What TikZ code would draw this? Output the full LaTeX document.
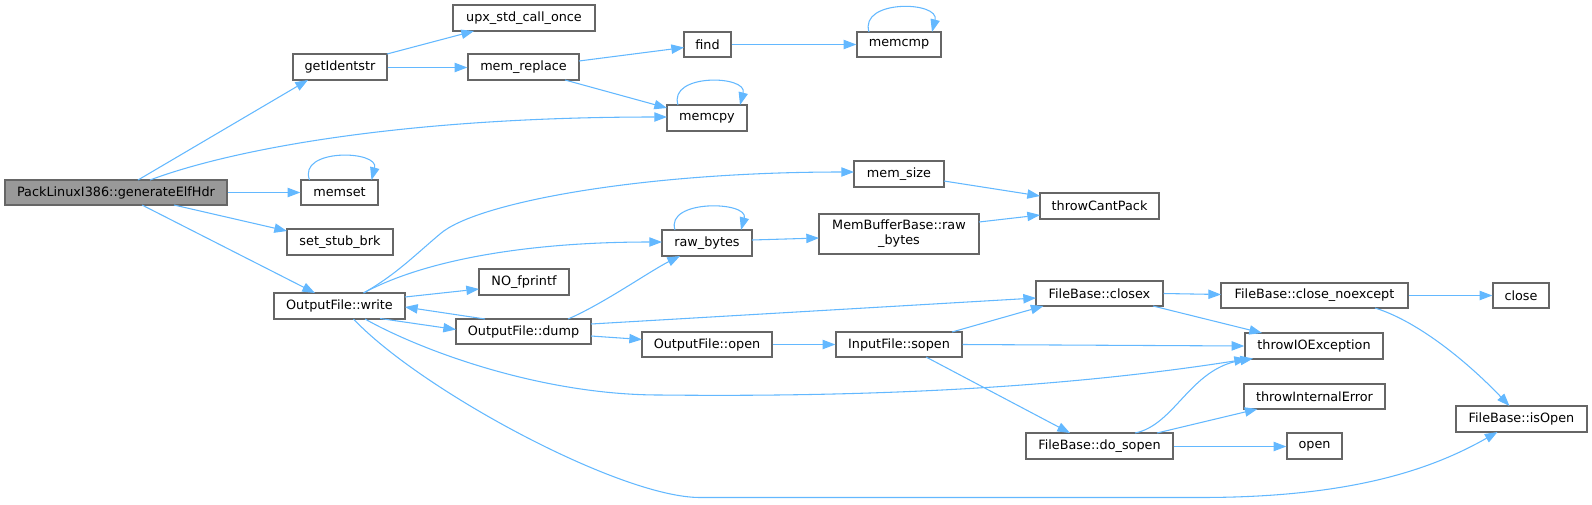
\documentclass[tikz,border=0pt]{standalone}
\usepackage{fontspec}
\setmainfont{DejaVu Sans}
\usetikzlibrary{arrows.meta,calc}
\definecolor{edgeblue}{HTML}{63B8FF}
\definecolor{boxgray}{HTML}{666666}
\definecolor{rootgray}{HTML}{999999}
\tikzset{
  box/.style={draw=boxgray, line width=1pt, fill=white, inner sep=0pt, align=center,
    font=\fontsize{9.6}{11.25}\selectfont, text=black},
  ca/.style={draw=edgeblue, line width=0.8pt, -{Triangle[length=9.5pt,width=7pt]}},
}
\newcommand\bx[7][]{\node[box,#1,minimum width={(#5-#3)*0.75pt},minimum height={(#6-#4)*0.75pt}] (#2) at ({(#3+#5)/2},{(#4+#6)/2}) {#7};}
\begin{document}
\begin{tikzpicture}[x=0.75pt,y=-0.75pt]
\useasboundingbox (0,0) rectangle (1592,504);
\bx[fill=rootgray]{root}{5}{180}{227}{205}{PackLinuxI386::generateElfHdr}
\bx{gid}{293}{54}{387}{80}{getIdentstr}
\bx{upx}{453}{5}{595}{31}{upx\_std\_call\_once}
\bx{mrep}{468}{54}{579}{80}{mem\_replace}
\bx{find}{684}{32}{731}{57}{find}
\bx{memcmp}{857}{32}{941}{57}{memcmp}
\bx{memcpy}{667}{105}{747}{131}{memcpy}
\bx{memset}{301}{180}{378}{205}{memset}
\bx{ssb}{287}{229}{393}{255}{set\_stub\_brk}
\bx{write}{274}{293}{405}{319}{OutputFile::write}
\bx{nof}{479}{269}{569}{295}{NO\_fprintf}
\bx{dump}{456}{319}{591}{344}{OutputFile::dump}
\bx{msize}{854}{161}{944}{187}{mem\_size}
\bx{rawb}{662}{230}{752}{256}{raw\_bytes}
\bx{mbb}{819}{214}{979}{254}{MemBufferBase::raw\\\_bytes}
\bx{ofopen}{642}{332}{772}{357}{OutputFile::open}
\bx{sopen}{836}{332}{962}{357}{InputFile::sopen}
\bx{tcp}{1040}{193}{1159}{219}{throwCantPack}
\bx{closex}{1036}{281}{1163}{306}{FileBase::closex}
\bx{cne}{1221}{283}{1408}{308}{FileBase::close\_noexcept}
\bx{close}{1493}{283}{1549}{308}{close}
\bx{tio}{1245}{333}{1383}{359}{throwIOException}
\bx{tie}{1244}{384}{1385}{409}{throwInternalError}
\bx{dos}{1026}{433}{1173}{459}{FileBase::do\_sopen}
\bx{open}{1287}{433}{1342}{459}{open}
\bx{isOpen}{1456}{406}{1587}{432}{FileBase::isOpen}
% root
\draw[ca] ($(root)+(22,-12.5)$) -- ($(gid)+(-32,13)$);
\draw[ca] ($(root)+(34,-12.5)$) .. controls +(80,-30) and +(-267,0) .. ($(memcpy)+(-40,-1)$);
\draw[ca] (root.east) -- (memset.west);
\draw[ca] ($(root)+(58,12.5)$) -- ($(ssb)+(-53,-11)$);
\draw[ca] ($(root)+(26,12.5)$) -- ($(write)+(-24.5,-13)$);
\draw[ca] ($(memset)+(-30,-12.5)$) .. controls +(-12,-32) and +(8,-30) .. ($(memset)+(32,-12.5)$);
% getIdentstr
\draw[ca] ($(gid)+(47,-13)$) -- ($(upx)+(-50,13)$);
\draw[ca] ($(gid.east)+(0,0.5)$) -- ($(mrep.west)+(0,0.5)$);
% mem_replace
\draw[ca] ($(mrep)+(55.5,-6)$) -- ($(find)+(-23.5,3)$);
\draw[ca] ($(mrep)+(41.5,13)$) -- ($(memcpy)+(-40,-10)$);
\draw[ca] ($(memcpy)+(-29,-13)$) .. controls +(-10,-32) and +(8,-30) .. ($(memcpy)+(33,-13)$);
% find
\draw[ca] (find.east) -- (memcmp.west);
\draw[ca] ($(memcmp)+(-30,-12.5)$) .. controls +(-10,-33) and +(8,-31) .. ($(memcmp)+(33,-12.5)$);
% write
\draw[ca] ($(write)+(24,-13)$) .. controls +(32,-18) and +(-25,21) .. (440,234) .. controls +(35,-31) and +(-214,0) .. ($(msize)+(-45,-2)$);
\draw[ca] ($(write)+(24,-13)$) .. controls +(57,-31) and +(-142,0) .. ($(rawb)+(-45,-1)$);
\draw[ca] ($(write)+(65.5,-9)$) -- ($(nof)+(-45,7)$);
\draw[ca] ($(write)+(40.5,12.5)$) -- ($(dump)+(-67.5,-2)$);
\draw[ca] ($(write)+(25.5,13)$) .. controls +(55,31) and +(-120,0) .. (660,395) .. controls +(190,2) and +(-197,31) .. ($(tio)+(-67,13)$);
\draw[ca] ($(write)+(14,13)$) .. controls +(67,71) and +(-80,0) .. (700,497.5) -- (1200,497.5) .. controls +(150,0) and +(-67,38) .. ($(isOpen)+(-24,13)$);
% dump
\draw[ca] ($(dump)+(-38.5,-12.5)$) -- ($(write)+(65.5,1)$);
\draw[ca] ($(dump)+(44.5,-12.5)$) .. controls +(35,-15) and +(-30,15) .. ($(rawb)+(-27,13)$);
\draw[ca] ($(dump)+(67.5,-7.5)$) -- ($(closex)+(-63.5,4.5)$);
\draw[ca] ($(dump)+(67.5,4.5)$) -- ($(ofopen)+(-65,-5)$);
% raw_bytes
\draw[ca] ($(rawb)+(-32,-13)$) .. controls +(-10,-31) and +(8,-29) .. ($(rawb)+(34,-13)$);
\draw[ca] ($(rawb)+(45,-3)$) -- ($(mbb)+(-80,4)$);
\draw[ca] ($(msize)+(45,7)$) -- ($(tcp)+(-59.5,-10)$);
\draw[ca] ($(mbb)+(80,-12)$) -- ($(tcp)+(-59.5,9)$);
% open / sopen
\draw[ca] (ofopen.east) -- (sopen.west);
\draw[ca] ($(sopen)+(53,-12.5)$) -- ($(closex)+(-56,12.5)$);
\draw[ca] (sopen.east) -- (tio.west);
\draw[ca] ($(sopen)+(27,12.5)$) -- ($(dos)+(-29.5,-13)$);
% closex
\draw[ca] (closex.east) -- ($(cne)+(-93.5,-1)$);
\draw[ca] ($(closex)+(53.5,12.5)$) -- ($(tio)+(-52,-13)$);
\draw[ca] (cne.east) -- (close.west);
\draw[ca] ($(cne)+(60.5,12.5)$) .. controls +(45,14) and +(-39,-41) .. ($(isOpen)+(-12,-13)$);
% do_sopen
\draw[ca] ($(dos)+(35.5,-13)$) .. controls +(40,-8) and +(-63,10) .. ($(tio)+(-61,12.5)$);
\draw[ca] ($(dos)+(57.5,-13)$) -- ($(tie)+(-57,12.5)$);
\draw[ca] ($(dos.east)+(0,0.5)$) -- ($(open.west)+(0,0.5)$);
\end{tikzpicture}
\end{document}
